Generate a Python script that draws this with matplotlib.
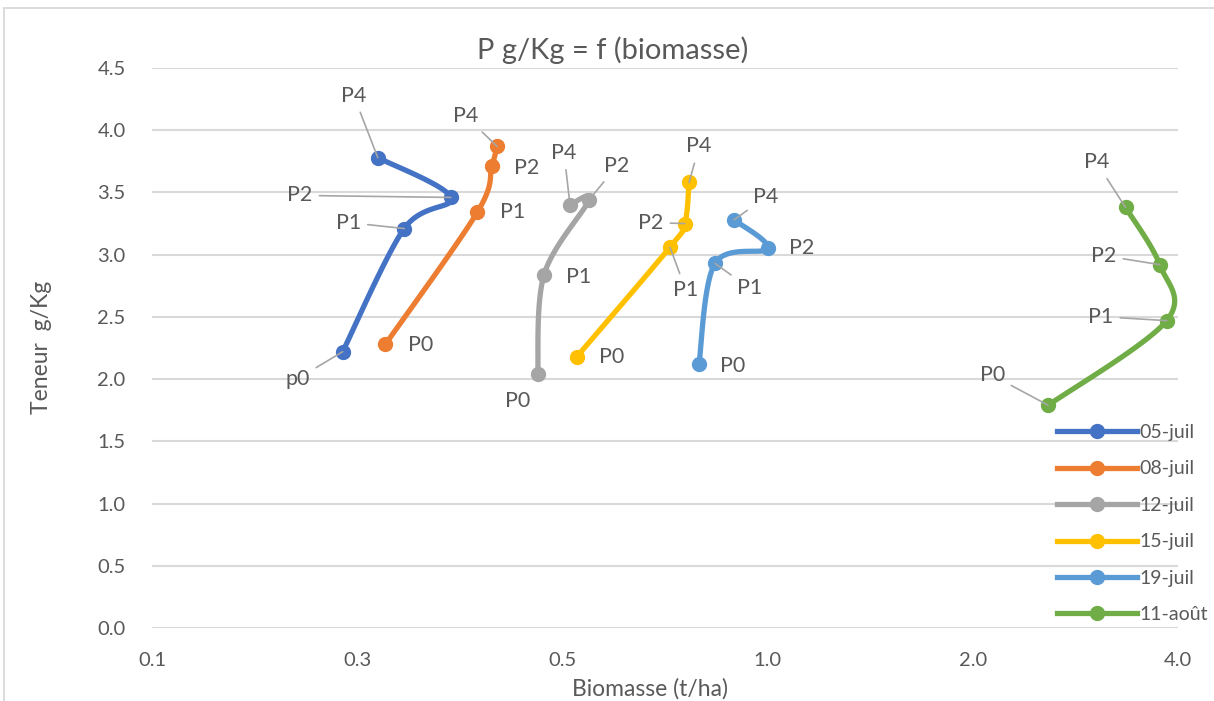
import matplotlib as mpl
mpl.use('Agg')
import matplotlib.pyplot as plt
from matplotlib.patches import Rectangle
import numpy as np

plt.rcParams['font.family'] = ['Lato', 'DejaVu Sans']

# biomass (t/ha) and P content (g/Kg) at stages P0, P1, P2, P4
dates = ['05-juil', '08-juil', '12-juil', '15-juil', '19-juil', '11-août']
colors = ['#4472C4', '#ED7D31', '#A5A5A5', '#FFC000', '#5B9BD5', '#70AD47']
stages = [['p0', 'P1', 'P2', 'P4']] + [['P0', 'P1', 'P2', 'P4']] * 5

biom_0507 = [0.238, 0.293, 0.343, 0.268]
p_0507 = [2.22, 3.21, 3.46, 3.78]
biom_0807 = [0.275, 0.375, 0.394, 0.401]
p_0807 = [2.28, 3.34, 3.71, 3.87]
biom_1207 = [0.460, 0.470, 0.547, 0.513]
p_1207 = [2.04, 2.84, 3.44, 3.40]
biom_1507 = [0.525, 0.719, 0.756, 0.767]
p_1507 = [2.18, 3.06, 3.25, 3.58]
biom_1907 = [0.793, 0.837, 1.000, 0.893]
p_1907 = [2.12, 2.93, 3.05, 3.28]
biom_1108 = [2.58, 3.85, 3.76, 3.35]
p_1108 = [1.79, 2.47, 2.92, 3.38]

biomasse = [biom_0507, biom_0807, biom_1207, biom_1507, biom_1907, biom_1108]
teneur = [p_0507, p_0807, p_1207, p_1507, p_1907, p_1108]

xticks = [0.125, 0.25, 0.5, 1, 2, 4]
xticklabels = ['0.1', '0.3', '0.5', '1.0', '2.0', '4.0']
yticks = np.arange(0, 4.51, 0.5)

# label offsets in pixels (dx, dy) and whether a leader line is drawn
offsets = [
    [(-45, -27, True), (-56, 6, True), (-151, 2, True), (-24, 62, True)],
    [(35, -1, False), (35, 0, False), (35, -2, False), (-31, 30, True)],
    [(-20, -27, False), (35, -2, False), (28, 34, True), (-6, 52, True)],
    [(35, 0, False), (16, -43, True), (-34, 1, True), (10, 36, True)],
    [(34, -2, False), (35, -25, True), (34, 0, False), (32, 23, True)],
    [(-56, 30, True), (-66, 4, True), (-56, 9, True), (-29, 45, True)],
]

TXT = '#595959'
GRID = '#D9D9D9'
SX, SY = 205.2, 124.4  # px per log2 unit / per g/Kg


def smooth(xs, ys, n=40):
    # bezier smoothing in screen-like space (log2 x)
    u = np.log2(np.array(xs)) * SX
    v = np.array(ys) * SY
    P = np.column_stack([u, v])
    P = np.vstack([P[0], P, P[-1]])
    out = []
    t = np.linspace(0, 1, n)[:, None]
    for i in range(1, len(P) - 2):
        p0, p1, p2, p3 = P[i - 1], P[i], P[i + 1], P[i + 2]
        c1 = p1 + (p2 - p0) / 6
        c2 = p2 - (p3 - p1) / 6
        seg = ((1 - t) ** 3) * p1 + 3 * ((1 - t) ** 2) * t * c1 + 3 * (1 - t) * t ** 2 * c2 + t ** 3 * p2
        out.append(seg)
    out = np.vstack(out)
    return 2 ** (out[:, 0] / SX), out[:, 1] / SY


fig = plt.figure(figsize=(12.14, 7.01), dpi=100)
fig.patches.append(Rectangle((4 / 1214, -0.01), 1.02, 1 - 8 / 701 + 0.01, transform=fig.transFigure,
                             fill=False, edgecolor=GRID, lw=1.3))
ax = fig.add_axes([152 / 1214, 1 - 628 / 701, (1178 - 152) / 1214, (628 - 68) / 701])
ax.set_xscale('log', base=2)
ax.set_xlim(0.125, 4)
ax.set_ylim(0, 4.5)
ax.set_xticks(xticks)
ax.set_xticklabels(xticklabels)
ax.minorticks_off()
ax.set_yticks(yticks)
ax.set_yticklabels(['%.1f' % y for y in yticks])
ax.tick_params(length=0, labelsize=14.5, colors=TXT, pad=17)
ax.tick_params(axis='y', pad=19)
for s in ax.spines.values():
    s.set_visible(False)
ax.grid(axis='y', color=GRID, lw=1.5)
ax.set_axisbelow(True)

for k in range(len(dates)):
    xs, ys = smooth(biomasse[k], teneur[k])
    ax.plot(xs, ys, color=colors[k], lw=3.8, solid_capstyle='round', zorder=3)
    ax.plot(biomasse[k], teneur[k], 'o', color=colors[k], ms=10, zorder=4)
    ax.plot([], [], '-o', color=colors[k], lw=3.8, ms=10, label=dates[k])
    for j, lab in enumerate(stages[k]):
        dx, dy, lead = offsets[k][j]
        kw = {}
        if lead:
            kw['arrowprops'] = dict(arrowstyle='-', color='#A6A6A6', lw=1.2, shrinkA=3, shrinkB=0)
        ax.annotate(lab, (biomasse[k][j], teneur[k][j]), xytext=(dx, dy), textcoords='offset pixels',
                    ha='center', va='center', fontsize=15.5, color=TXT, zorder=5, **kw)

fig.text(613 / 1214, 1 - 50 / 701, 'P g/Kg = f (biomasse)', fontsize=21, color=TXT, ha='center', va='center')
fig.text(650 / 1214, 1 - 689 / 701, 'Biomasse (t/ha)', fontsize=16.5, color=TXT, ha='center', va='center')
fig.text(42 / 1214, 1 - 347 / 701, 'Teneur  g/Kg', fontsize=16.5, color=TXT, ha='center', va='center',
         rotation=90)

leg = ax.legend(loc='upper left', bbox_to_anchor=(1057 / 1214, 1 - 424 / 701), bbox_transform=fig.transFigure,
                frameon=False, fontsize=14, handlelength=4.1, handletextpad=0.15, labelspacing=1.0,
                borderaxespad=0, borderpad=0)
for t in leg.get_texts():
    t.set_color(TXT)

fig.savefig('out.png', dpi=100)
